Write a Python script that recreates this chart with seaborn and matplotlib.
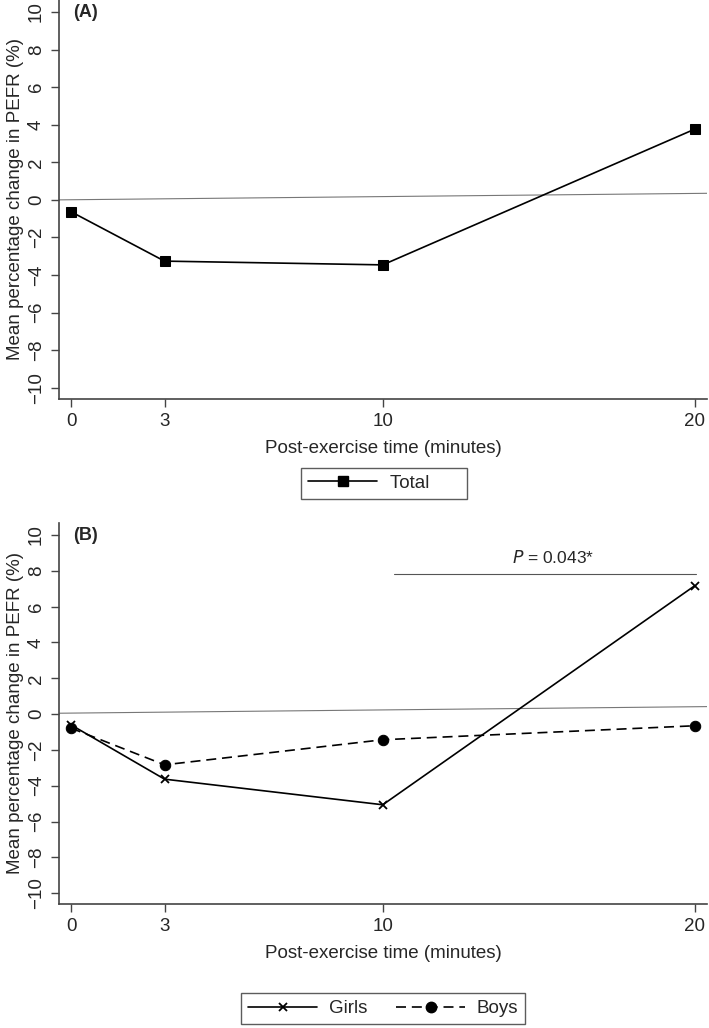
import numpy as np
import pandas as pd
import matplotlib
matplotlib.use('Agg')
import matplotlib.pyplot as plt
import seaborn as sns
from matplotlib.lines import Line2D


# données
temps       = [0, 3, 10, 20]
total       = [-0.63, -3.26, -3.46, 3.76]
filles      = [-0.60, -3.63, -5.06, 7.16]
garcons     = [-0.78, -2.83, -1.43, -0.65]
y_ticks     = [-10, -8, -6, -4, -2, 0, 2, 4, 6, 8, 10]

# ligne de référence (légèrement inclinée dans l'original)
ref_x       = [-0.39, 20.4]
ref_A       = [0.0, 0.35]
ref_B       = [0.05, 0.42]

# barre de significativité
p_x         = [10.35, 20.05]
p_y         = 7.85
p_texte_x   = 15.45
p_texte     = 'P'
p_valeur    = ' = 0.043*'

TAILLE = 13.5
TIRETS = (6, 3.5)

sns.set_theme(style='ticks')
plt.rcParams['font.family'] = ['Liberation Sans', 'DejaVu Sans']

fig = plt.figure(figsize=(7.09, 10.28), dpi=100)

axA = fig.add_axes([59 / 709, 1 - 399 / 1028, (707 - 59) / 709, 399 / 1028])
axB = fig.add_axes([59 / 709, 1 - 904 / 1028, (707 - 59) / 709, (904 - 523) / 1028])

df_total  = pd.DataFrame({'temps': temps, 'variation': total})
df_filles = pd.DataFrame({'temps': temps, 'variation': filles})
df_garcon = pd.DataFrame({'temps': temps, 'variation': garcons})

sns.lineplot(data=df_total, x='temps', y='variation', ax=axA,
             color='black', marker='s', markersize=7.5, linewidth=1.2,
             markeredgecolor='black', legend=False)

sns.lineplot(data=df_filles, x='temps', y='variation', ax=axB,
             color='black', marker='x', markersize=6, linewidth=1.2,
             markeredgecolor='black', markeredgewidth=1.3, legend=False)
sns.lineplot(data=df_garcon, x='temps', y='variation', ax=axB,
             color='black', marker='o', markersize=7.5, linewidth=1.2,
             linestyle=(0, TIRETS), markeredgecolor='black', legend=False)

axA.plot(ref_x, ref_A, color='#777777', linewidth=0.8, zorder=1)
axB.plot(ref_x, ref_B, color='#777777', linewidth=0.8, zorder=1)

axB.plot(p_x, [p_y, p_y], color='#555555', linewidth=0.8)
axB.text(p_texte_x, p_y + 0.4, f'$\\it{{{p_texte}}}$' + p_valeur,
         ha='center', va='bottom', fontsize=12.5)

for ax, ylim, lettre in [(axA, (-10.6, 10.64), '(A)'), (axB, (-10.6, 10.67), '(B)')]:
    ax.set_xlim(-0.385, 20.4)
    ax.set_ylim(*ylim)
    ax.set_xticks(temps)
    ax.set_yticks(y_ticks)
    ax.tick_params(axis='both', direction='out', length=6, width=1,
                   color='#444444', pad=4, labelsize=TAILLE)
    ax.set_xticklabels([str(t) for t in temps])
    ax.set_yticklabels([str(t).replace('-', '\u2212') for t in y_ticks],
                       rotation=90, va='center')
    ax.set_xlabel('Post-exercise time (minutes)', fontsize=TAILLE, labelpad=7)
    ax.set_ylabel('Mean percentage change in PEFR (%)', fontsize=TAILLE, labelpad=3)
    for side in ['left', 'bottom']:
        ax.spines[side].set_color('#444444')
        ax.spines[side].set_linewidth(1.2)
    sns.despine(ax=ax)
    ax.text(0.022, 0.99, lettre, transform=ax.transAxes, fontsize=13,
            fontweight='bold', ha='left', va='top')

poignees_A = [Line2D([], [], color='black', marker='s', markersize=7.5, linewidth=1.2)]
legA = axA.legend(poignees_A, ['Total      '], loc='upper left', frameon=True,
                  bbox_to_anchor=(301 / 709, 1 - 468 / 1028),
                  bbox_transform=fig.transFigure, fancybox=False,
                  edgecolor='#333333', fontsize=TAILLE, handlelength=3.7,
                  borderpad=0.37, handletextpad=0.65, borderaxespad=0)
legA.get_frame().set_linewidth(1.0)

poignees_B = [
    Line2D([], [], color='black', marker='x', markersize=6, markeredgewidth=1.3, linewidth=1.2),
    Line2D([], [], color='black', marker='o', markersize=7.5, linewidth=1.2, linestyle=(0, TIRETS)),
]
legB = axB.legend(poignees_B, ['Girls', 'Boys'], loc='upper left', ncol=2,
                  frameon=True, bbox_to_anchor=(241 / 709, 1 - 993 / 1028),
                  bbox_transform=fig.transFigure, fancybox=False,
                  edgecolor='#333333', fontsize=TAILLE, handlelength=3.7,
                  borderpad=0.37, handletextpad=0.6, columnspacing=1.55,
                  borderaxespad=0)
legB.get_frame().set_linewidth(1.0)

plt.savefig('out.png', dpi=100)
